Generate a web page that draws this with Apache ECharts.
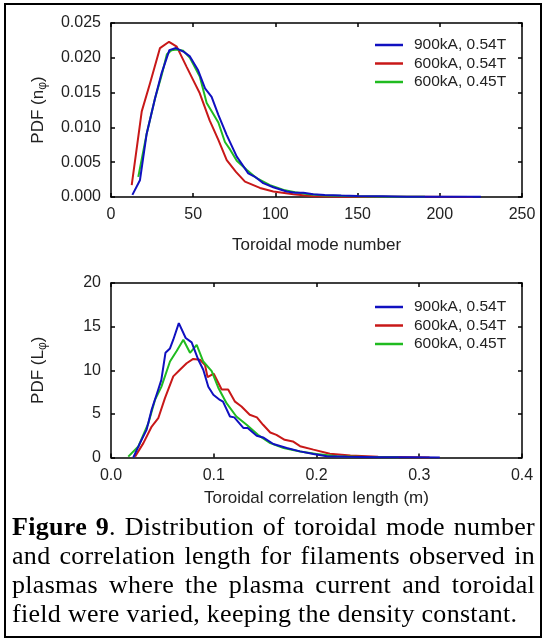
<!DOCTYPE html>
<html>
<head>
<meta charset="utf-8">
<script src="https://cdn.jsdelivr.net/npm/echarts@6/dist/echarts.min.js"></script>
<style>
  html, body { margin:0; padding:0; background:#fff; }
  #wrap { position:relative; width:546px; height:638px; overflow:hidden; }
  #chart { position:absolute; left:0; top:0; width:546px; height:638px; }
  #frame { position:absolute; left:4px; top:3px; width:538px; height:635px; box-sizing:border-box; border:2px solid #000; pointer-events:none; }
  #caption { position:absolute; left:12px; top:512px; width:523px; font-family:'Liberation Serif','Times New Roman',serif; font-size:26px; letter-spacing:0.3px; line-height:29px; color:#000; }
  #caption div { text-align:justify; text-align-last:justify; white-space:nowrap; }
  #caption div.last { text-align-last:left; }
</style>
</head>
<body>
<div id="wrap">
  <div id="chart"></div>
  <div id="caption">
    <div><b>Figure 9</b>. Distribution of toroidal mode number</div>
    <div>and correlation length for filaments observed in</div>
    <div>plasmas where the plasma current and toroidal</div>
    <div class="last">field were varied, keeping the density constant.</div>
  </div>
  <div id="frame"></div>
</div>
<script>
// ---- data ----
const seriesNames = ['900kA, 0.54T', '600kA, 0.54T', '600kA, 0.45T'];

// Top panel: toroidal mode number PDF
const modeBlueX = [13, 17.6, 21.7, 26.8, 30.8, 35.5, 39.5, 44, 48, 53, 57.2, 61.2, 65.3, 70.4, 76.5, 83.5, 87.6, 92.6, 98.7, 106.9, 112, 117, 123, 130, 140, 150, 165, 180, 200, 225];
const modeBlueY = [0.0003, 0.0024, 0.0091, 0.0142, 0.0178, 0.0211, 0.0214, 0.0209, 0.0202, 0.0182, 0.0156, 0.0144, 0.0118, 0.0089, 0.0058, 0.0034, 0.0029, 0.0020, 0.0014, 0.0008, 0.0006, 0.0006, 0.0004, 0.0003, 0.0002, 0.00015, 0.0001, 0.00005, 0.00003, 0.00002];

const modeRedX = [12.6, 18.7, 23.7, 29.8, 35.3, 40, 46, 50, 54, 60, 65.3, 70.4, 76, 81.5, 90.6, 98.7, 111, 123, 140, 160, 190, 220];
const modeRedY = [0.0017, 0.0123, 0.0163, 0.0214, 0.0223, 0.0216, 0.0187, 0.0168, 0.0149, 0.0110, 0.0082, 0.0053, 0.0036, 0.0022, 0.0013, 0.0008, 0.0004, 0.0001, 0.00005, 0.00003, 0.00002, 0.00001];

const modeGreenX = [16.6, 21.7, 26.8, 30.8, 34, 36.8, 40, 44, 48, 54, 58.2, 61.5, 65.3, 69.3, 72.5, 76.5, 82.5, 88.6, 96.7, 105, 112, 120, 130, 150, 170, 191];
const modeGreenY = [0.0029, 0.0091, 0.0142, 0.0175, 0.0205, 0.0211, 0.0212, 0.0210, 0.0200, 0.0173, 0.0135, 0.0122, 0.0107, 0.0079, 0.0068, 0.0052, 0.0039, 0.0027, 0.0017, 0.0010, 0.0007, 0.0004, 0.0002, 0.0001, 0.00005, 0.00002];

// Bottom panel: toroidal correlation length PDF
const lenBlueX = [0.0217, 0.0282, 0.0347, 0.0396, 0.046, 0.049, 0.053, 0.0574, 0.0606, 0.066, 0.0727, 0.0785, 0.085, 0.0898, 0.0947, 0.0996, 0.106, 0.109, 0.1158, 0.12, 0.129, 0.133, 0.1418, 0.148, 0.158, 0.171, 0.184, 0.197, 0.21, 0.23, 0.26, 0.29, 0.32];
const lenBlueY = [0, 1.65, 3.2, 5.5, 7.8, 8.9, 12.0, 12.5, 13.5, 15.4, 13.7, 13.2, 11.2, 10.06, 8.1, 7.2, 6.6, 6.4, 4.7, 4.6, 3.37, 3.37, 2.5, 2.3, 1.55, 1.08, 0.7, 0.39, 0.15, 0.08, 0.04, 0.02, 0];

const lenRedX = [0.0234, 0.0315, 0.0396, 0.046, 0.0525, 0.0606, 0.0671, 0.0736, 0.08, 0.0866, 0.0915, 0.094, 0.1, 0.1077, 0.114, 0.1207, 0.127, 0.135, 0.142, 0.148, 0.155, 0.161, 0.169, 0.177, 0.184, 0.197, 0.213, 0.233, 0.26, 0.29, 0.31];
const lenRedY = [0.1, 1.65, 3.55, 4.5, 6.8, 9.3, 10.06, 10.8, 11.3, 11.2, 10.6, 9.2, 9.6, 7.8, 7.8, 6.4, 5.85, 4.9, 4.6, 3.75, 2.87, 2.6, 2.03, 1.84, 1.3, 0.9, 0.42, 0.23, 0.1, 0.04, 0];

const lenGreenX = [0.0168, 0.0266, 0.0363, 0.0428, 0.049, 0.0574, 0.0639, 0.0704, 0.0769, 0.0834, 0.0898, 0.098, 0.1044, 0.1126, 0.122, 0.132, 0.143, 0.155, 0.168, 0.184, 0.2, 0.22, 0.25, 0.28];
const lenGreenY = [0.1, 1.26, 3.9, 6.6, 8.1, 11.0, 12.2, 13.5, 12.0, 12.9, 11.0, 9.9, 8.0, 6.2, 4.7, 3.75, 2.6, 1.65, 1.08, 0.69, 0.4, 0.15, 0.05, 0.02];

const modeTicks = { min: 0, max: 250, interval: 50 };
const pdfModeTicks = { min: 0, max: 0.025, interval: 0.005 };
const lenTicks = { min: 0, max: 0.4, interval: 0.1 };
const pdfLenTicks = { min: 0, max: 20, interval: 5 };

// ---- chart ----
const colors = { blue: '#1010c0', red: '#c81818', green: '#20bb20' };
const FONT = "'Liberation Sans', Arial, Helvetica, sans-serif";
const pairs = (xs, ys) => xs.map((x, i) => [x, ys[i]]);

function xAx(grid, t, pos, fmt, name, gap) {
  const main = pos === 'bottom';
  return {
    type: 'value', gridIndex: grid, position: pos, min: t.min, max: t.max, interval: t.interval,
    axisLine: { show: true, onZero: false, lineStyle: { color: '#000', width: 1.5 } },
    axisTick: { show: true, inside: true, length: 4, lineStyle: { color: '#000', width: 1.5 } },
    axisLabel: { show: main, margin: 10, fontSize: 16, color: '#222', fontFamily: FONT, formatter: fmt },
    splitLine: { show: false },
    name: main ? name : '', nameLocation: 'middle', nameGap: gap,
    nameTextStyle: { fontSize: 17, color: '#222', fontFamily: FONT }
  };
}
function yAx(grid, t, pos, fmt, sub, gap) {
  const main = pos === 'left';
  return {
    type: 'value', gridIndex: grid, position: pos, min: t.min, max: t.max, interval: t.interval,
    axisLine: { show: true, onZero: false, lineStyle: { color: '#000', width: 1.5 } },
    axisTick: { show: true, inside: true, length: 4, lineStyle: { color: '#000', width: 1.5 } },
    axisLabel: { show: main, margin: 10, fontSize: 16, color: '#222', fontFamily: FONT, formatter: fmt },
    splitLine: { show: false },
    name: main ? '{a|PDF (' + sub + '}{b|φ}{a|)}' : '', nameLocation: 'middle', nameGap: gap, nameRotate: 90,
    nameTextStyle: {
      color: '#222', fontFamily: FONT,
      rich: {
        a: { fontSize: 17, color: '#222', fontFamily: FONT },
        b: { fontSize: 12, color: '#222', fontFamily: FONT, padding: [9, 0, 0, 0] }
      }
    }
  };
}

function line(name, data, xi, yi, color, z) {
  return {
    name, type: 'line', data, xAxisIndex: xi, yAxisIndex: yi, showSymbol: false, symbol: 'none',
    lineStyle: { color, width: 2 }, itemStyle: { color }, z, animation: false
  };
}

function legend(top) {
  return {
    data: seriesNames, orient: 'vertical', left: 370, top: top, itemWidth: 28, itemHeight: 2.5, itemGap: 2.5,
    icon: 'rect', selectedMode: false,
    textStyle: { fontSize: 15.5, color: '#222', fontFamily: FONT, padding: [0, 0, 0, 6] }
  };
}

const chart = echarts.init(document.getElementById('chart'), null, { renderer: 'canvas' });
chart.setOption({
  animation: false,
  grid: [
    { left: 111, top: 23, width: 411, height: 174, containLabel: false },
    { left: 111, top: 283, width: 411, height: 174.5, containLabel: false }
  ],
  legend: [legend(32), legend(294)],
  xAxis: [
    xAx(0, modeTicks, 'bottom', v => String(v), 'Toroidal mode number', 40),
    xAx(0, modeTicks, 'top', v => String(v), '', 0),
    xAx(1, lenTicks, 'bottom', v => v.toFixed(1), 'Toroidal correlation length (m)', 32),
    xAx(1, lenTicks, 'top', v => v.toFixed(1), '', 0)
  ],
  yAxis: [
    yAx(0, pdfModeTicks, 'left', v => v.toFixed(3), 'n', 62),
    yAx(0, pdfModeTicks, 'right', v => v.toFixed(3), '', 0),
    yAx(1, pdfLenTicks, 'left', v => String(v), 'L', 62),
    yAx(1, pdfLenTicks, 'right', v => String(v), '', 0)
  ],
  series: [
    line(seriesNames[1], pairs(modeRedX, modeRedY), 0, 0, colors.red, 2),
    line(seriesNames[2], pairs(modeGreenX, modeGreenY), 0, 0, colors.green, 3),
    line(seriesNames[0], pairs(modeBlueX, modeBlueY), 0, 0, colors.blue, 4),
    line(seriesNames[1], pairs(lenRedX, lenRedY), 2, 2, colors.red, 2),
    line(seriesNames[2], pairs(lenGreenX, lenGreenY), 2, 2, colors.green, 3),
    line(seriesNames[0], pairs(lenBlueX, lenBlueY), 2, 2, colors.blue, 4)
  ]
});
</script>
</body>
</html>
